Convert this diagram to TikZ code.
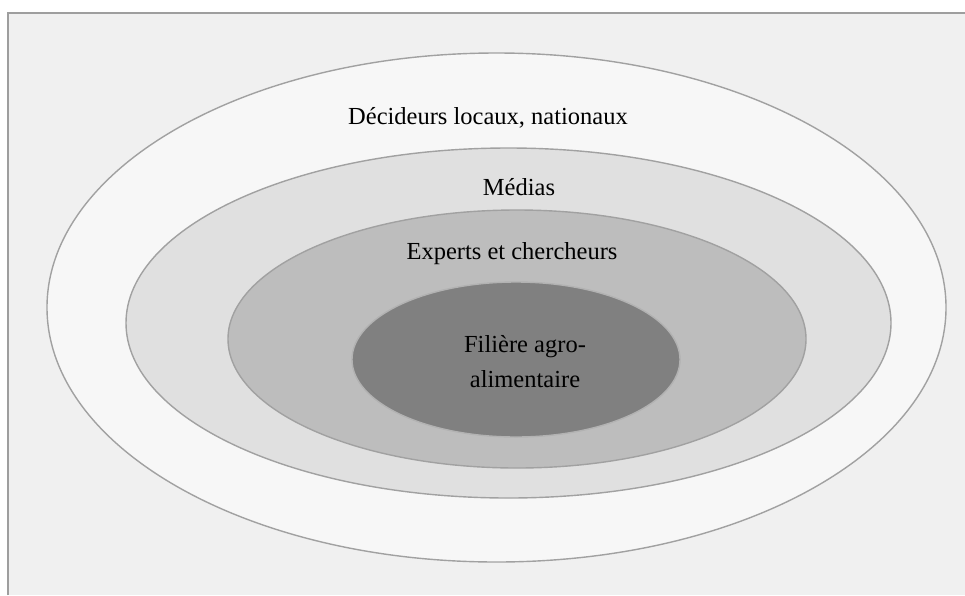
\documentclass[tikz,border=0pt]{standalone}
\usepackage{fontspec}
\setmainfont{Liberation Serif}
\begin{document}
\begin{tikzpicture}[x=1pt,y=-1pt,
  ring/.style={draw=black!37, line width=1.4pt},
  lbl/.style={font=\fontsize{24.5}{29}\selectfont, text=black, align=center, inner sep=0pt}]
\useasboundingbox (0,0) rectangle (965,595);
\fill[black!6] (8,13) rectangle (965,595);
\draw[black!38, line width=2pt] (8,595) -- (8,13) -- (965,13);
\filldraw[ring, fill=black!3] (496.5,307.5) ellipse [x radius=449.5, y radius=254.5];
\filldraw[ring, fill=black!12] (508.5,323) ellipse [x radius=382.5, y radius=175];
\filldraw[ring, fill=black!26] (517,339) ellipse [x radius=289, y radius=129];
\filldraw[ring, draw=black!30, fill=black!50] (516,359.5) ellipse [x radius=164, y radius=77.5];
\node[lbl] (dec) at (488,118) {Décideurs locaux, nationaux};
\node[lbl] (med) at (519,187) {Médias};
\node[lbl] (exp) at (512,254) {Experts et chercheurs};
\node[lbl, font=\fontsize{24.5}{35}\selectfont] (fil) at (525,362) {Filière agro-\\alimentaire};
\end{tikzpicture}
\end{document}
